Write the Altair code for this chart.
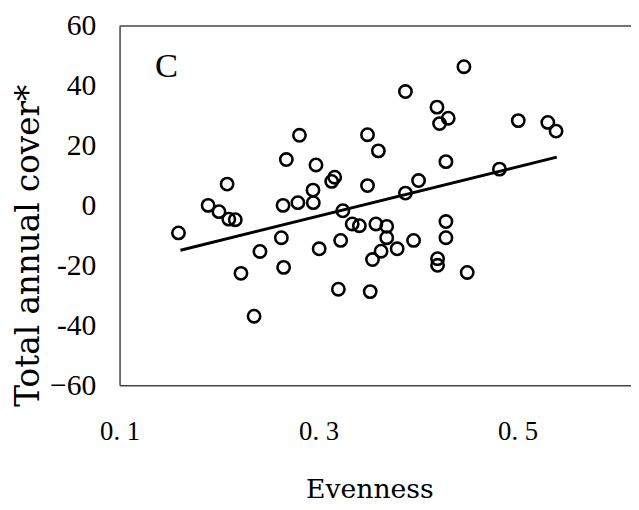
import altair as alt
import pandas as pd

evenness = [0.1592, 0.1890, 0.1999, 0.2098, 0.2163, 0.2081, 0.2220, 0.2352, 0.2411,
            0.2626, 0.2649, 0.2643, 0.2676, 0.2808, 0.2792, 0.2947, 0.2944, 0.2974,
            0.3006, 0.3132, 0.3162, 0.3244, 0.3222, 0.3199, 0.3338, 0.3410, 0.3492,
            0.3492, 0.3601, 0.3576, 0.3685, 0.3685, 0.3628, 0.3542, 0.3519, 0.3790,
            0.3873, 0.3873, 0.3955, 0.4005, 0.4190, 0.4216, 0.4303, 0.4280, 0.4280,
            0.4280, 0.4196, 0.4196, 0.4461, 0.4494, 0.4818, 0.5007, 0.5304, 0.5387]
cover = [-9.1, 0.1, -2.0, -4.5, -4.7, 7.2, -22.6, -36.9, -15.3,
         -10.7, -20.6, 0.1, 15.4, 23.5, 1.0, 1.0, 5.2, 13.6,
         -14.4, 8.1, 9.5, -1.7, -11.6, -27.9, -6.1, -6.7, 23.7,
         6.7, 18.3, -6.1, -6.9, -10.7, -15.2, -18.0, -28.7, -14.4,
         38.1, 4.2, -11.6, 8.4, 32.9, 27.4, 29.2, 14.7, -5.3,
         -10.7, -17.7, -19.9, 46.4, -22.3, 12.2, 28.4, 27.8, 24.9]

fit_x = [0.1612, 0.5394]
fit_y = [-14.9, 16.2]

panel_label = ["C"]
panel_x = [0.1357]
panel_y = [42.8]

x_ticks = [0.1, 0.3, 0.5]
y_ticks = [-60, -40, -20, 0, 20, 40, 60]
x_domain = [0.1, 0.614]
y_domain = [-60, 60]

pts = pd.DataFrame({"Evenness": evenness, "Cover": cover})
fit = pd.DataFrame({"Evenness": fit_x, "Cover": fit_y})
lab = pd.DataFrame({"Evenness": panel_x, "Cover": panel_y, "t": panel_label})
topline = pd.DataFrame({"Evenness": [x_domain[0]], "E2": [x_domain[1]], "Cover": [y_domain[1]]})

xs = alt.Scale(domain=x_domain, nice=False, zero=False)
ys = alt.Scale(domain=y_domain, nice=False, zero=False)

x_axis = alt.Axis(
    values=x_ticks,
    labelExpr="'0. ' + format(datum.value * 10, 'd')",
    ticks=False, tickSize=0, grid=False,
    domainColor="#444444", domainWidth=1.5,
    labelFont="Liberation Serif", labelFontSize=27, labelColor="black",
    labelPadding=34, labelBaseline="top", labelFlush=False, labelAlign="center",
    title="Evenness", titleFont="DejaVu Serif", titleFontSize=27,
    titleFontWeight="normal", titleColor="black",
    titleX=253, titleY=114, titleBaseline="alphabetic", titleAlign="center",
)
y_axis = alt.Axis(
    values=y_ticks,
    labelExpr="datum.value == -60 ? '\u221260' : (datum.value < 0 ? '-' + abs(datum.value) : '' + datum.value)",
    ticks=False, tickSize=0, grid=False,
    domainColor="#444444", domainWidth=1.5,
    labelFont="Liberation Serif", labelFontSize=30, labelColor="black",
    labelPadding=24, labelAlign="right", labelBaseline="middle", labelFlush=False,
    title="Total annual cover*", titleFont="DejaVu Serif", titleFontSize=33,
    titleFontWeight="normal", titleColor="black", titleAngle=270,
    titleX=-82, titleY=222, titleBaseline="alphabetic", titleAlign="center",
)

X = alt.X("Evenness:Q", scale=xs, axis=x_axis)
Y = alt.Y("Cover:Q", scale=ys, axis=y_axis)

points = alt.Chart(pts).mark_point(
    shape="circle", filled=False, size=156, strokeWidth=2.6, color="black", opacity=1
).encode(x=X, y=Y)

line = alt.Chart(fit).mark_line(color="black", strokeWidth=3).encode(x=X, y=Y)

label = alt.Chart(lab).mark_text(
    font="Liberation Serif", fontSize=35, align="left", baseline="alphabetic", color="black"
).encode(x=X, y=Y, text="t:N")

top = alt.Chart(topline).mark_rule(color="#444444", strokeWidth=1.5).encode(
    x=X, x2="E2:Q", y=Y
)

chart = alt.layer(top, line, points, label).properties(
    width=518, height=364,
    autosize=alt.AutoSizeParams(type="none"),
    padding={"left": 113, "top": 15, "right": 0, "bottom": 120},
    background="white",
).configure_view(stroke=None)

chart.save("out.html", embed_options={"renderer": "svg", "actions": False})
